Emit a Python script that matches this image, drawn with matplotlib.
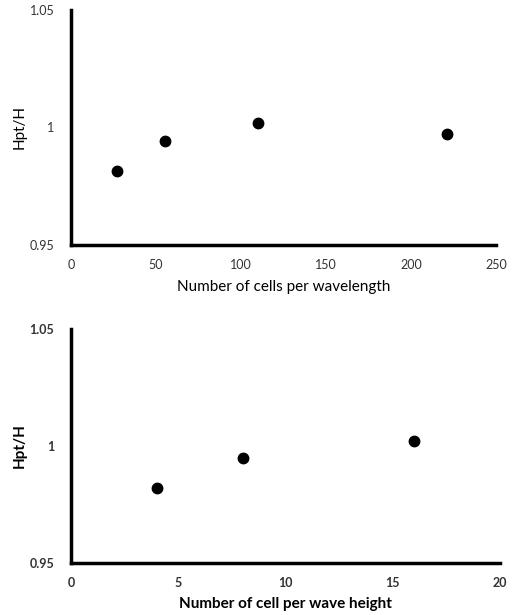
import matplotlib
matplotlib.use("Agg")
import matplotlib.pyplot as plt

plt.rcParams['font.family'] = ['Lato', 'DejaVu Sans']

# top panel: cells per wavelength
cells_wl = [27, 55, 110, 221]
ratio_wl = [0.9815, 0.9942, 1.0017, 0.997]
xticks_top = [0, 50, 100, 150, 200, 250]

# bottom panel: cells per wave height
cells_wh = [4, 8, 16]
ratio_wh = [0.9818, 0.9946, 1.0021]
xticks_bot = [0, 5, 10, 15, 20]

yticks = [0.95, 1.0, 1.05]
ytick_labels = ["0.95", "1", "1.05"]

fig = plt.figure(figsize=(5.15, 6.15), dpi=100)
ax1 = fig.add_axes([0.138, 0.602, 0.825, 0.382])
ax2 = fig.add_axes([0.138, 0.085, 0.833, 0.380])


def style(ax, xticks, xmax, bold):
    weight = 'bold' if bold else 'normal'
    ax.set_xlim(0, xmax)
    ax.set_ylim(0.95, 1.05)
    ax.set_xticks(xticks)
    ax.set_xticklabels([str(t) for t in xticks], fontsize=9, color='#333333', fontweight=weight)
    ax.set_yticks(yticks)
    ax.set_yticklabels(ytick_labels, fontsize=9, color='#333333', fontweight=weight)
    for s in ['top', 'right']:
        ax.spines[s].set_visible(False)
    for s in ['left', 'bottom']:
        ax.spines[s].set_linewidth(2.5)
        ax.spines[s].set_color('black')
    ax.tick_params(axis='x', length=0, pad=10)
    ax.tick_params(axis='y', length=0, pad=12)
    ax.set_ylabel("Hpt/H", fontsize=11, fontweight=weight, labelpad=2)


ax1.plot(cells_wl, ratio_wl, 'o', color='black', markersize=7.5)
style(ax1, xticks_top, 250, False)
ax1.set_xlabel("Number of cells per wavelength", fontsize=11, labelpad=7)

ax2.plot(cells_wh, ratio_wh, 'o', color='black', markersize=7.5)
style(ax2, xticks_bot, 20, True)
ax2.set_xlabel("Number of cell per wave height", fontsize=11, fontweight='bold', labelpad=6)

fig.savefig("out.png", dpi=100)
